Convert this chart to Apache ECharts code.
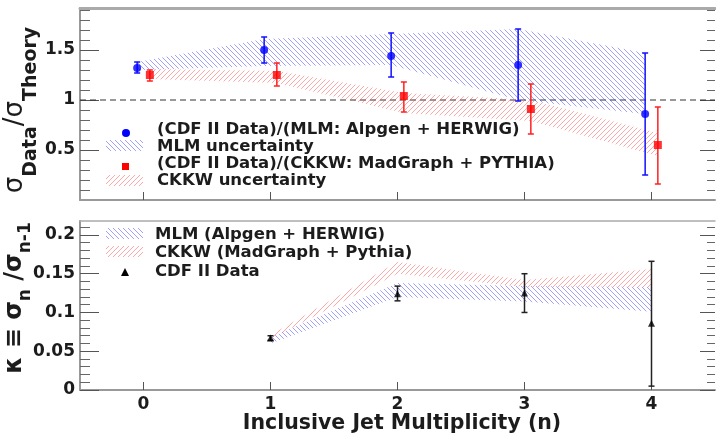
<!DOCTYPE html>
<html><head><meta charset="utf-8">
<script src="https://cdn.jsdelivr.net/npm/echarts@6/dist/echarts.min.js"></script>
<style>html,body{margin:0;padding:0;background:#fff}#c{width:716px;height:434px}</style>
</head><body><div id="c"></div>
<script>
// ---------- data ----------
// top panel: sigma_data / sigma_theory
const mlmX       = [-0.05, 0.95, 1.95, 2.95, 3.95];
const mlmRatio   = [1.32, 1.50, 1.44, 1.35, 0.86];
const mlmErrLo   = [1.27, 1.37, 1.23, 0.99, 0.25];
const mlmErrHi   = [1.38, 1.63, 1.67, 1.71, 1.47];
const mlmBandLo  = [1.30, 1.34, 1.35, 1.00, 0.86];
const mlmBandHi  = [1.38, 1.61, 1.66, 1.71, 1.47];

const ckkwX      = [0.05, 1.05, 2.05, 3.05, 4.05];
const ckkwRatio  = [1.25, 1.25, 1.04, 0.91, 0.55];
const ckkwErrLo  = [1.19, 1.14, 0.88, 0.66, 0.16];
const ckkwErrHi  = [1.30, 1.37, 1.18, 1.16, 0.93];
const ckkwBandLo = [1.21, 1.17, 0.87, 0.79, 0.44];
const ckkwBandHi = [1.31, 1.29, 1.07, 1.00, 0.67];

const refLineY = 1;
const xRange = [-0.5, 4.5];

// bottom panel: kappa = sigma_n / sigma_(n-1)
const kappaX      = [1, 2, 3, 4];
const kappaData   = [0.067, 0.124, 0.125, 0.086];
const kappaErrLo  = [0.064, 0.115, 0.100, 0.005];
const kappaErrHi  = [0.070, 0.134, 0.150, 0.166];
const kMlmBandLo  = [0.060, 0.120, 0.114, 0.101];
const kMlmBandHi  = [0.068, 0.138, 0.134, 0.133];
const kCkkwBandLo = [0.066, 0.150, 0.133, 0.133];
const kCkkwBandHi = [0.071, 0.165, 0.142, 0.156];

// ticks
const xTicks      = [0, 1, 2, 3, 4];
const topYTicks   = [0.5, 1, 1.5];
const topYMinor   = [0.1,0.2,0.3,0.4,0.6,0.7,0.8,0.9,1.1,1.2,1.3,1.4,1.6,1.7,1.8,1.9];
const botYTicks   = [0, 0.05, 0.1, 0.15, 0.2];
const botYMinor   = [0.01,0.02,0.03,0.04,0.06,0.07,0.08,0.09,0.11,0.12,0.13,0.14,0.16,0.17,0.18,0.19,0.21];

// legend texts
const legTop = ['(CDF II Data)/(MLM: Alpgen + HERWIG)', 'MLM uncertainty',
                '(CDF II Data)/(CKKW: MadGraph + PYTHIA)', 'CKKW uncertainty'];
const legBot = ['MLM (Alpgen + HERWIG)', 'CKKW (MadGraph + Pythia)', 'CDF II Data'];
const xTitle = 'Inclusive Jet Multiplicity (n)';

// ---------- styling helpers ----------
const FONT = 'DejaVu Sans';
const TXT = '#1c1c1c';
function hatch(color, dir) {
  const s = 5;
  const c = document.createElement('canvas'); c.width = s; c.height = s;
  const g = c.getContext('2d');
  g.strokeStyle = color; g.lineWidth = 0.9;
  g.beginPath();
  if (dir === 'back') {
    g.moveTo(-1,-1); g.lineTo(s+1,s+1);
    g.moveTo(-1,s-1); g.lineTo(1,s+1);
    g.moveTo(s-1,-1); g.lineTo(s+1,1);
  } else {
    g.moveTo(-1,s+1); g.lineTo(s+1,-1);
    g.moveTo(-1,1); g.lineTo(1,-1);
    g.moveTo(s-1,s+1); g.lineTo(s+1,s-1);
  }
  g.stroke();
  return {image: c, repeat: 'repeat'};
}
const blueHatch = hatch('rgba(60,60,255,0.55)', 'back');
const redHatch  = hatch('rgba(255,60,60,0.5)', 'fwd');

function bandSeries(xs, lo, hi, fill, gi) {
  return {
    type: 'custom', xAxisIndex: gi*2, yAxisIndex: gi*4, clip: true, silent: true, z: 2,
    data: xs.map((x,i)=>[x, lo[i], hi[i]]),
    encode: {x: 0, y: [1, 2]},
    renderItem: (params, api) => {
      if (params.dataIndex !== 0) return null;
      const pts = [];
      for (let i = 0; i < xs.length; i++) pts.push(api.coord([xs[i], hi[i]]));
      for (let i = xs.length-1; i >= 0; i--) pts.push(api.coord([xs[i], lo[i]]));
      return {type: 'polygon', shape: {points: pts}, style: {fill: fill, stroke: null}};
    }
  };
}
function errSeries(xs, lo, hi, color, gi, cap) {
  return {
    type: 'custom', xAxisIndex: gi*2, yAxisIndex: gi*4, silent: true, z: 3,
    data: xs.map((x,i)=>[x, lo[i], hi[i]]),
    encode: {x: 0, y: [1, 2]},
    renderItem: (params, api) => {
      const x = api.value(0);
      const a = api.coord([x, api.value(1)]), b = api.coord([x, api.value(2)]);
      const st = {stroke: color, lineWidth: 1.5};
      return {type: 'group', children: [
        {type: 'line', shape: {x1: a[0], y1: a[1], x2: b[0], y2: b[1]}, style: st},
        {type: 'line', shape: {x1: a[0]-cap, y1: a[1], x2: a[0]+cap, y2: a[1]}, style: st},
        {type: 'line', shape: {x1: b[0]-cap, y1: b[1], x2: b[0]+cap, y2: b[1]}, style: st}
      ]};
    }
  };
}

const labelStyle = {fontFamily: FONT, fontWeight: 'bold', fontSize: 17, color: TXT};
function xAxes(gi, showLabels, topWidth) {
  return [
    {gridIndex: gi, type: 'value', min: xRange[0], max: xRange[1], position: 'bottom',
     axisLine: {onZero: false, lineStyle: {color: '#999', width: 2}},
     axisTick: {inside: true, length: 8, customValues: xTicks, lineStyle: {color: '#555'}},
     axisLabel: showLabels ? Object.assign({customValues: xTicks, margin: 6}, labelStyle) : {show: false},
     splitLine: {show: false}},
    {gridIndex: gi, type: 'value', min: xRange[0], max: xRange[1], position: 'top',
     axisLine: {onZero: false, lineStyle: {color: '#aaa', width: topWidth}},
     axisTick: {show: false}, axisLabel: {show: false}, splitLine: {show: false}}
  ];
}
function yAxes(gi, min, max, major, minor) {
  const base = {gridIndex: gi, type: 'value', min: min, max: max, splitLine: {show: false}};
  return [
    Object.assign({}, base, {position: 'left',
      axisLine: {onZero: false, lineStyle: {color: '#999', width: 2}},
      axisTick: {inside: true, length: 19, customValues: major, lineStyle: {color: '#555'}},
      axisLabel: Object.assign({customValues: major, margin: 5}, labelStyle)}),
    Object.assign({}, base, {position: 'left',
      axisLine: {show: false, onZero: false},
      axisTick: {inside: true, length: 10, customValues: minor, lineStyle: {color: '#666'}},
      axisLabel: {show: false}}),
    Object.assign({}, base, {position: 'right',
      axisLine: {show: false, onZero: false},
      axisTick: {inside: true, length: 15, customValues: major, lineStyle: {color: '#555'}},
      axisLabel: {show: false}}),
    Object.assign({}, base, {position: 'right',
      axisLine: {show: false, onZero: false},
      axisTick: {inside: true, length: 8, customValues: minor, lineStyle: {color: '#666'}},
      axisLabel: {show: false}})
  ];
}

function legText(x, y, t) {
  return {type: 'text', x: x, y: y, z: 100,
    style: {text: t, fontFamily: FONT, fontWeight: 'bold', fontSize: 16.5, fill: TXT,
            align: 'left', verticalAlign: 'middle'}};
}
function legRect(x, y, w, h, fill) {
  return {type: 'rect', z: 100, shape: {x: x, y: y, width: w, height: h}, style: {fill: fill}};
}

const chart = echarts.init(document.getElementById('c'), null, {renderer: 'canvas'});
chart.setOption({
  animation: false,
  backgroundColor: '#fff',
  grid: [
    {left: 80, top: 8, width: 635, height: 192},
    {left: 80, top: 221, width: 635, height: 169}
  ],
  xAxis: [].concat(xAxes(0, false, 3), xAxes(1, true, 1.5)),
  yAxis: [].concat(yAxes(0, 0, 1.92, topYTicks, topYMinor), yAxes(1, 0, 0.218, botYTicks, botYMinor)),
  series: [
    {type: 'line', xAxisIndex: 0, yAxisIndex: 0, data: xRange.map(x => [x, refLineY]),
     symbol: 'none', silent: true, z: 1,
     lineStyle: {color: '#333', width: 1, type: [6, 4]}},
    bandSeries(mlmX, mlmBandLo, mlmBandHi, blueHatch, 0),
    bandSeries(ckkwX, ckkwBandLo, ckkwBandHi, redHatch, 0),
    errSeries(mlmX, mlmErrLo, mlmErrHi, '#1010ff', 0, 3),
    errSeries(ckkwX, ckkwErrLo, ckkwErrHi, '#ff2020', 0, 3),
    {type: 'scatter', xAxisIndex: 0, yAxisIndex: 0, z: 4, symbol: 'circle', symbolSize: 8,
     itemStyle: {color: '#0000ff'}, data: mlmX.map((x,i)=>[x, mlmRatio[i]])},
    {type: 'scatter', xAxisIndex: 0, yAxisIndex: 0, z: 4, symbol: 'rect', symbolSize: 8,
     itemStyle: {color: '#ff0000'}, data: ckkwX.map((x,i)=>[x, ckkwRatio[i]])},

    bandSeries(kappaX, kMlmBandLo, kMlmBandHi, blueHatch, 1),
    bandSeries(kappaX, kCkkwBandLo, kCkkwBandHi, redHatch, 1),
    errSeries(kappaX, kappaErrLo, kappaErrHi, '#222', 1, 3),
    {type: 'scatter', xAxisIndex: 2, yAxisIndex: 4, z: 4, symbol: 'triangle', symbolSize: 7,
     itemStyle: {color: '#000'}, data: kappaX.map((x,i)=>[x, kappaData[i]])}
  ],
  graphic: [
    // top legend
    {type: 'circle', z: 100, shape: {cx: 126, cy: 133, r: 4}, style: {fill: '#0000ff'}},
    legText(157, 130, legTop[0]),
    legRect(106, 140, 37, 11, blueHatch),
    legText(157, 147, legTop[1]),
    legRect(122, 163, 7, 7, '#ff0000'),
    legText(157, 164, legTop[2]),
    legRect(106, 175, 37, 11, redHatch),
    legText(157, 181, legTop[3]),
    // bottom legend
    legRect(106, 228, 37, 11, blueHatch),
    legText(155, 235, legBot[0]),
    legRect(106, 246, 37, 11, redHatch),
    legText(155, 253, legBot[1]),
    {type: 'polygon', z: 100, shape: {points: [[125, 268], [129, 276], [121, 276]]}, style: {fill: '#000'}},
    legText(155, 272, legBot[2]),
    // x axis title
    {type: 'text', x: 402, y: 424, z: 100,
     style: {text: xTitle, fontFamily: FONT, fontWeight: 'bold', fontSize: 20.5, fill: TXT,
             align: 'center', verticalAlign: 'middle'}},
    // y axis titles
    {type: 'text', x: 23.5, y: 110, rotation: Math.PI/2, z: 100,
     style: {text: '{m|σ}{s|Data}{m|/σ}{s|Theory}', align: 'center', verticalAlign: 'middle', fill: TXT,
       rich: {
         m: {fontFamily: FONT, fontSize: 26, fill: TXT, padding: [0,0,16,0]},
         s: {fontFamily: FONT, fontWeight: 'bold', fontSize: 19, fill: TXT, padding: [16,0,0,0]}
       }}},
    {type: 'text', x: 20.5, y: 298, rotation: Math.PI/2, z: 100,
     style: {text: '{m|κ ≡ σ}{s|n}{m| /σ}{s|n-1}', align: 'center', verticalAlign: 'middle', fill: TXT,
       rich: {
         m: {fontFamily: FONT, fontWeight: 'bold', fontSize: 24, fill: TXT, padding: [0,0,11,0]},
         s: {fontFamily: FONT, fontWeight: 'bold', fontSize: 17, fill: TXT, padding: [11,0,0,0]}
       }}}
  ]
});
</script></body></html>
